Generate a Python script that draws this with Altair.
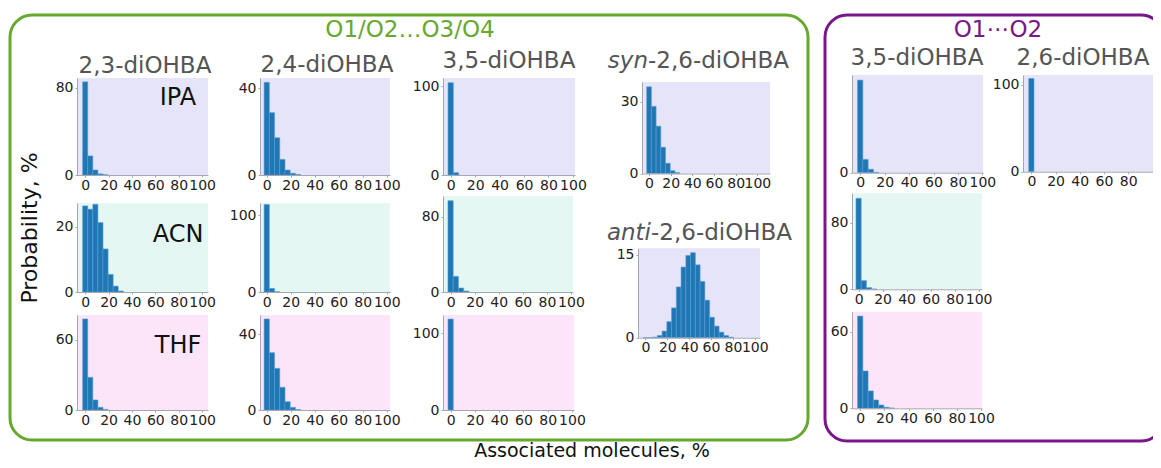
import altair as alt
import pandas as pd

# ---------------- data ----------------
# histogram bin centres (% associated molecules) and bin width
BIN_CENTERS = [0, 4.35, 8.7, 13.04, 17.39, 21.74, 26.09, 30.43, 34.78, 39.13,
               43.48, 47.83, 52.17, 56.52, 60.87, 65.22, 69.57, 73.91, 78.26]
BIN_WIDTH = 4.35

# O1/O2...O3/O4 group
P23_IPA = [85.5, 17.5, 4.6, 1.0, 0.2]
P23_ACN = [26.4, 25.4, 26.9, 21.3, 13.2, 5.4, 1.8, 0.3]
P23_THF = [78.0, 28.0, 8.6, 2.3, 0.5]
P24_IPA = [42.8, 28.8, 17.2, 7.2, 2.3, 0.8, 0.2]
P24_ACN = [114.0, 4.7, 0.3]
P24_THF = [48.1, 30.3, 22.0, 12.0, 4.4, 1.4, 0.2]
P35_IPA = [103.7, 2.6]
P35_ACN = [96.8, 16.5, 4.2, 1.0]
P35_THF = [118.7]
SYN26 = [36.3, 28.1, 19.8, 11.0, 4.3, 1.2, 0.4]
ANTI26 = [0, 0, 0.1, 0.4, 1.2, 2.9, 5.4, 9.2, 12.8, 14.9, 15.4, 13.2,
          10.2, 6.8, 3.7, 2.1, 1.0, 0.4, 0.1]
# O1...O2 group
Q35_IPA = [97.6, 14.0, 3.6, 0.4]
Q26_IPA = [107.0]
Q35_ACN = [109.0, 10.4, 2.0, 0.3]
Q35_THF = [72.2, 29.2, 13.6, 6.5, 2.6, 0.8, 0.2]

X_TICKS = [0, 20, 40, 60, 80, 100]
X_TICKS_CUT = [0, 20, 40, 60, 80]

COL_TITLES = ["2,3-diOHBA", "2,4-diOHBA", "3,5-diOHBA", "3,5-diOHBA", "2,6-diOHBA"]
SOLVENTS = ["IPA", "ACN", "THF"]

# ---------------- styles / layout ----------------
M = 8            # page margin
W, H = 1145, 452
FONT = "DejaVu Sans"
BAR = "#1f77b4"
BAR_EDGE = "#5b9bd5"
AX = "#a6a6b0"
LAV, MINT, PINK = "#e6e4f8", "#e5f7f3", "#fde5f9"
GREEN, PURPLE = "#67a82f", "#7a168b"
TITLE_GRAY = "#555555"

# (values, bg colour, (x0, x1, ytop, ybottom) in page px, x-domain, y-max, y ticks, x ticks)
PANELS = [
    (P23_IPA, LAV, (77, 208, 78, 175), (-7, 105), 89, [0, 80], X_TICKS),
    (P23_ACN, MINT, (77, 208, 203, 292), (-7, 105), 27.3, [0, 20], X_TICKS),
    (P23_THF, PINK, (77, 208, 315, 410), (-7, 105), 81.4, [0, 60], X_TICKS),
    (P24_IPA, LAV, (260, 390, 78, 175), (-5.6, 102.7), 44.8, [0, 40], X_TICKS),
    (P24_ACN, MINT, (260, 390, 203, 292), (-5.6, 102.7), 116, [0, 100], X_TICKS),
    (P24_THF, PINK, (260, 390, 315, 410), (-5.6, 102.7), 50.2, [0, 40], X_TICKS),
    (P35_IPA, LAV, (443, 575, 78, 175), (-6.3, 101.7), 109, [0, 100], X_TICKS),
    (P35_ACN, MINT, (443, 573, 196, 292), (-6.3, 101.7), 101.8, [0, 80], X_TICKS),
    (P35_THF, PINK, (443, 574, 315, 410), (-6.3, 101.7), 124, [0, 100], X_TICKS),
    (SYN26, LAV, (642, 770, 82, 173.5), (-6.5, 111.7), 38.3, [0, 30], X_TICKS),
    (ANTI26, LAV, (638, 760, 248.3, 337.7), (-6.8, 104.8), 16.2, [0, 15], X_TICKS),
    (Q35_IPA, LAV, (852, 983, 75, 172.7), (-6.7, 100.5), 103, [0], X_TICKS),
    (Q26_IPA, LAV, (1023, 1153, 75, 171.7), (-6.9, 100.5), 111, [0, 100], X_TICKS_CUT),
    (Q35_ACN, MINT, (852, 982, 193.3, 289.3), (-5.5, 102.8), 115, [0, 80], X_TICKS),
    (Q35_THF, PINK, (852, 982, 311.7, 408.3), (-6.8, 100.8), 75.6, [0, 60], X_TICKS),
]


def panel_layers(vals, bg, box, xdom, ymax, yt, xt):
    x0, x1, ytop, ybot = box
    xs = alt.Scale(domain=list(xdom), range=[x0 - M, x1 - M], nice=False, zero=False)
    ys = alt.Scale(domain=[0, ymax], range=[ybot - M, ytop - M], nice=False, zero=False)
    back = alt.Chart(alt.Data(values=[{"a": xdom[0], "b": xdom[1], "c": 0, "d": ymax}])).mark_rect(
        fill=bg).encode(
        x=alt.X("a:Q", scale=xs, axis=None), x2="b:Q",
        y=alt.Y("c:Q", scale=ys, axis=None), y2="d:Q")
    df = pd.DataFrame({
        "lo": [c - BIN_WIDTH / 2 for c in BIN_CENTERS[:len(vals)]],
        "hi": [c + BIN_WIDTH / 2 for c in BIN_CENTERS[:len(vals)]],
        "p": vals,
    })
    common = dict(title=None, grid=False, domainColor=AX, domainWidth=1, tickColor=AX,
                  tickSize=2, labelFont=FONT, labelFontSize=14, labelColor="#222222",
                  labelOverlap=False, zindex=1)
    xaxis = alt.Axis(orient="bottom", offset=(ybot - M) - H, values=xt, labelPadding=1,
                     labelFlush=False, **common)
    yaxis = alt.Axis(orient="left", offset=-(x0 - M), values=yt, labelPadding=2, **common)
    bars = alt.Chart(df).mark_rect(fill=BAR, stroke=BAR_EDGE, strokeWidth=0.6).encode(
        x=alt.X("lo:Q", scale=xs, axis=xaxis), x2="hi:Q",
        y=alt.Y("p:Q", scale=ys, axis=yaxis), y2=alt.Y2(datum=0))
    return [back, bars]


def txt(s, x, y, size, color, align="center", italic=False, angle=0, baseline="alphabetic"):
    kw = dict(fontSize=size, color=color, align=align, baseline=baseline, font=FONT)
    if italic:
        kw["fontStyle"] = "italic"
    if angle:
        kw["angle"] = angle
    return alt.Chart(alt.Data(values=[{"t": s}])).mark_text(**kw).encode(
        x=alt.value(x - M), y=alt.value(y - M), text="t:N")


def frame(x0, x1, y0, y1, color):
    return alt.Chart(alt.Data(values=[{"k": 1}])).mark_rect(
        fillOpacity=0, stroke=color, strokeWidth=3, cornerRadius=22).encode(
        x=alt.value(x0 - M), x2=alt.value(x1 - M), y=alt.value(y0 - M), y2=alt.value(y1 - M))


layers = [frame(10, 808, 15, 440, GREEN), frame(825, 1163, 15, 441, PURPLE)]
for p in PANELS:
    layers += panel_layers(*p)

layers += [
    txt("O1/O2…O3/O4", 410, 37, 23, GREEN),
    txt("O1⋯O2", 998, 37, 23, PURPLE),
    txt(COL_TITLES[0], 145, 73, 23, TITLE_GRAY),
    txt(COL_TITLES[1], 327, 72, 23, TITLE_GRAY),
    txt(COL_TITLES[2], 509, 68, 23, TITLE_GRAY),
    txt("syn", 648, 68, 23, TITLE_GRAY, align="right", italic=True),
    txt("-2,6-diOHBA", 648, 68, 23, TITLE_GRAY, align="left"),
    txt("anti", 651, 240, 23, TITLE_GRAY, align="right", italic=True),
    txt("-2,6-diOHBA", 651, 240, 23, TITLE_GRAY, align="left"),
    txt(COL_TITLES[3], 917, 65, 23, TITLE_GRAY),
    txt(COL_TITLES[4], 1083, 65, 23, TITLE_GRAY),
    txt(SOLVENTS[0], 178, 105, 24, "#111111"),
    txt(SOLVENTS[1], 178, 242, 24, "#111111"),
    txt(SOLVENTS[2], 178, 353, 24, "#111111"),
    txt("Probability, %", 30, 228, 22, "#111111", angle=270, baseline="middle"),
    txt("Associated molecules, %", 592, 457, 19, "#111111"),
]

chart = alt.layer(*layers).resolve_scale(
    x="independent", y="independent").resolve_axis(
    x="independent", y="independent").properties(
    width=W, height=H, padding=0, autosize=alt.AutoSizeParams(type="none")
).configure_view(strokeWidth=0)

chart.save("out.html", embed_options={"renderer": "svg", "actions": False})
